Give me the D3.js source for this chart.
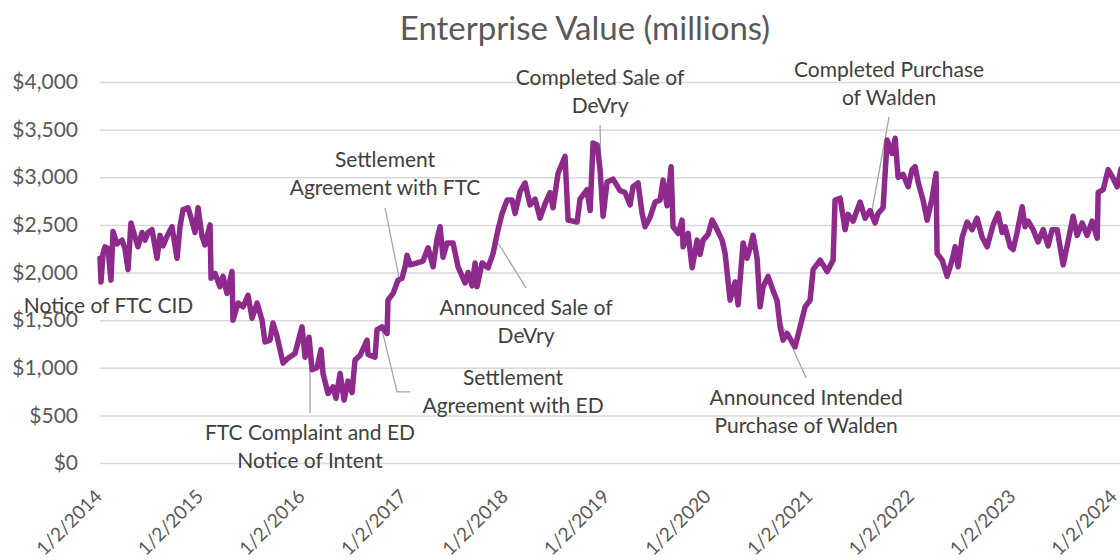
<!DOCTYPE html>
<html>
<head>
<meta charset="utf-8">
<script src="https://cdn.jsdelivr.net/npm/d3@7"></script>
<style>
  body { margin: 0; background: #fff; }
  svg { display: block; font-family: Lato, "Open Sans", sans-serif; }
</style>
</head>
<body>
<svg id="chart" width="1120" height="560"></svg>
<script>
// Enterprise value (millions): [decimal year, value]
const evSeries = [
  [2014.000,2150],[2014.010,1900],[2014.030,2200],[2014.049,2270],[2014.079,2250],[2014.108,1920],[2014.128,2430],
  [2014.167,2300],[2014.217,2340],[2014.246,2250],[2014.276,2030],[2014.305,2520],[2014.335,2410],[2014.374,2270],
  [2014.414,2420],[2014.443,2340],[2014.473,2420],[2014.512,2450],[2014.562,2150],[2014.591,2390],[2014.621,2280],
  [2014.660,2380],[2014.709,2480],[2014.759,2150],[2014.788,2480],[2014.818,2660],[2014.867,2680],[2014.906,2540],
  [2014.936,2420],[2014.966,2680],[2015.005,2380],[2015.034,2290],[2015.084,2500],[2015.094,1940],[2015.133,1990],
  [2015.182,1850],[2015.212,1960],[2015.251,1780],[2015.300,2010],[2015.310,1500],[2015.360,1680],[2015.409,1640],
  [2015.458,1760],[2015.498,1520],[2015.547,1680],[2015.596,1500],[2015.626,1270],[2015.675,1290],[2015.704,1470],
  [2015.744,1330],[2015.803,1050],[2015.852,1100],[2015.921,1150],[2015.990,1430],[2016.020,1110],[2016.059,1320],
  [2016.089,980],[2016.138,1000],[2016.177,1190],[2016.197,940],[2016.246,730],[2016.296,800],[2016.325,680],
  [2016.365,940],[2016.404,660],[2016.443,860],[2016.483,740],[2016.512,1080],[2016.562,1130],[2016.631,1290],
  [2016.640,1140],[2016.709,1110],[2016.729,1400],[2016.778,1430],[2016.828,1360],[2016.837,1710],[2016.887,1780],
  [2016.936,1920],[2016.975,1940],[2017.005,2060],[2017.025,2180],[2017.054,2080],[2017.123,2100],[2017.182,2120],
  [2017.232,2260],[2017.281,2060],[2017.320,2350],[2017.350,2480],[2017.379,2160],[2017.419,2310],[2017.478,2310],
  [2017.527,2060],[2017.596,1890],[2017.626,2000],[2017.665,1860],[2017.695,2100],[2017.714,1850],[2017.764,2100],
  [2017.823,2050],[2017.872,2200],[2017.921,2450],[2017.961,2620],[2018.010,2760],[2018.059,2760],[2018.089,2620],
  [2018.138,2850],[2018.187,2940],[2018.236,2710],[2018.286,2770],[2018.335,2570],[2018.384,2720],[2018.433,2840],
  [2018.463,2680],[2018.512,3040],[2018.581,3220],[2018.611,2550],[2018.700,2530],[2018.729,2770],[2018.798,2870],
  [2018.828,2650],[2018.857,3360],[2018.897,3340],[2018.926,3080],[2018.956,2590],[2018.995,2950],[2019.054,2980],
  [2019.123,2860],[2019.172,2840],[2019.222,2710],[2019.251,2900],[2019.300,2940],[2019.340,2620],[2019.369,2480],
  [2019.419,2580],[2019.468,2740],[2019.517,2760],[2019.547,2970],[2019.586,2700],[2019.626,3110],[2019.645,2480],
  [2019.695,2410],[2019.734,2550],[2019.744,2270],[2019.793,2410],[2019.833,2050],[2019.882,2340],[2019.911,2190],
  [2019.941,2340],[2019.990,2400],[2020.030,2550],[2020.079,2450],[2020.128,2340],[2020.158,2200],[2020.207,1710],
  [2020.256,1900],[2020.286,1660],[2020.335,2310],[2020.374,2150],[2020.404,2260],[2020.433,2390],[2020.473,2150],
  [2020.502,1640],[2020.532,1850],[2020.581,1960],[2020.631,1810],[2020.670,1700],[2020.700,1430],[2020.729,1290],
  [2020.768,1360],[2020.847,1220],[2020.897,1430],[2020.946,1640],[2020.995,1710],[2021.025,2030],[2021.094,2130],
  [2021.163,2010],[2021.222,2130],[2021.241,2760],[2021.291,2780],[2021.340,2450],[2021.369,2610],[2021.419,2540],
  [2021.488,2740],[2021.537,2570],[2021.586,2650],[2021.635,2520],[2021.665,2620],[2021.714,2680],[2021.754,3390],
  [2021.803,3250],[2021.833,3410],[2021.862,3000],[2021.911,3030],[2021.961,2900],[2022.000,3080],[2022.030,3110],
  [2022.059,2950],[2022.108,2760],[2022.148,2550],[2022.197,2780],[2022.236,3040],[2022.246,2200],[2022.296,2130],
  [2022.345,1960],[2022.394,2130],[2022.424,2270],[2022.453,2060],[2022.493,2370],[2022.542,2530],[2022.591,2450],
  [2022.640,2570],[2022.690,2370],[2022.739,2270],[2022.798,2500],[2022.847,2620],[2022.887,2420],[2022.916,2480],
  [2022.966,2270],[2022.995,2240],[2023.034,2420],[2023.084,2690],[2023.113,2480],[2023.143,2540],[2023.192,2450],
  [2023.241,2320],[2023.291,2450],[2023.340,2280],[2023.379,2450],[2023.429,2450],[2023.488,2080],[2023.527,2280],
  [2023.586,2590],[2023.626,2390],[2023.675,2520],[2023.724,2390],[2023.773,2540],[2023.823,2360],[2023.833,2840],
  [2023.882,2870],[2023.931,3080],[2023.980,2990],[2024.020,2900],[2024.059,3090]
];

const tickYears = [2014, 2015, 2016, 2017, 2018, 2019, 2020, 2021, 2022, 2023, 2024];
const yTicks = [0, 500, 1000, 1500, 2000, 2500, 3000, 3500, 4000];

// Event labels: text lines, label anchor [year, value], leader path points [year, value]
const events = [
  { lines: ["Notice of FTC CID"], at: [2014.084, 1575], leader: [] },
  { lines: ["FTC Complaint and ED", "Notice of Intent"], at: [2016.069, 242],
    leader: [[2016.069, 525], [2016.069, 1082]] },
  { lines: ["Settlement", "Agreement with FTC"], at: [2016.808, 3108],
    leader: [[2016.808, 2678], [2016.946, 1943]] },
  { lines: ["Settlement", "Agreement with ED"], at: [2018.069, 819],
    leader: [[2017.054, 746], [2016.926, 746], [2016.778, 1397]] },
  { lines: ["Announced Sale of", "DeVry"], at: [2018.197, 1554],
    leader: [[2018.197, 1838], [2017.921, 2310]] },
  { lines: ["Completed Sale of", "DeVry"], at: [2018.926, 3969],
    leader: [[2018.926, 3549], [2018.936, 3024]] },
  { lines: ["Completed Purchase", "of Walden"], at: [2021.773, 4053],
    leader: [[2021.773, 3633], [2021.606, 2657]] },
  { lines: ["Announced Intended", "Purchase of Walden"], at: [2020.956, 609],
    leader: [[2020.956, 893], [2020.690, 1523]] }
];

const base = new Date(2014, 0, 2).getTime();
function toDate(yr) { return new Date(base + (yr - 2014) * 365.25 * 864e5); }

const svg = d3.select("#chart");
const width = +svg.attr("width");
const margin = { left: 100, right: 5, top: 82, bottom: 97 };

const x = d3.scaleTime()
  .domain([new Date(2014, 0, 2), new Date(2024, 0, 2)])
  .range([margin.left, 1115]);
const y = d3.scaleLinear()
  .domain([0, 4000])
  .range([463, 82]);

const textColor = "#595959";

// title
svg.append("text")
  .attr("x", 585)
  .attr("y", 40)
  .attr("text-anchor", "middle")
  .style("font-size", "33px")
  .style("fill", textColor)
  .text("Enterprise Value (millions)");

// gridlines + y labels
const yAxis = svg.append("g")
  .attr("transform", "translate(" + margin.left + ",0)")
  .call(d3.axisLeft(y).tickValues(yTicks)
    .tickSize(-(width - margin.left))
    .tickPadding(22)
    .tickFormat(d => "$" + d3.format(",")(d)));
yAxis.select(".domain").remove();
yAxis.selectAll(".tick line").attr("stroke", "#d9d9d9").attr("stroke-width", 1.5);
yAxis.selectAll(".tick text")
  .style("font-size", "21px")
  .style("font-family", "Lato, sans-serif")
  .attr("fill", textColor);

// x labels, rotated
const xAxis = svg.append("g")
  .attr("transform", "translate(0,463)")
  .call(d3.axisBottom(x).tickValues(tickYears.map(yr => new Date(yr, 0, 2)))
    .tickSize(0)
    .tickFormat(d => "1/2/" + d.getFullYear()));
xAxis.select(".domain").remove();
xAxis.selectAll(".tick text")
  .style("font-size", "19px")
  .style("font-family", "Lato, sans-serif")
  .attr("fill", textColor)
  .attr("text-anchor", "end")
  .attr("y", 0)
  .attr("dy", "0.35em")
  .attr("transform", "translate(-2,30) rotate(-45)");

// clip to picture
svg.append("clipPath").attr("id", "plotClip")
  .append("rect").attr("x", 0).attr("y", 0).attr("width", width).attr("height", 560);

// leader lines
const leaderLine = d3.line().x(d => x(toDate(d[0]))).y(d => y(d[1]));
events.filter(e => e.leader.length).forEach(e => {
  svg.append("path")
    .attr("d", leaderLine(e.leader))
    .attr("fill", "none")
    .attr("stroke", "#a6a6a6")
    .attr("stroke-width", 1.3);
});

// series line
const line = d3.line()
  .x(d => x(toDate(d[0])))
  .y(d => y(d[1]));
svg.append("path")
  .datum(evSeries)
  .attr("clip-path", "url(#plotClip)")
  .attr("d", line)
  .attr("fill", "none")
  .attr("stroke", "#8f2a8d")
  .attr("stroke-width", 5.5)
  .attr("stroke-linejoin", "round")
  .attr("stroke-linecap", "round");

// event labels
events.forEach(e => {
  const t = svg.append("text")
    .attr("x", x(toDate(e.at[0])))
    .attr("y", y(e.at[1]))
    .attr("text-anchor", "middle")
    .style("font-size", "21px")
    .style("fill", "#404040");
  e.lines.forEach((s, i) => {
    t.append("tspan")
      .attr("x", x(toDate(e.at[0])))
      .attr("dy", i === 0 ? 0 : 28.5)
      .text(s);
  });
});
</script>
</body>
</html>
